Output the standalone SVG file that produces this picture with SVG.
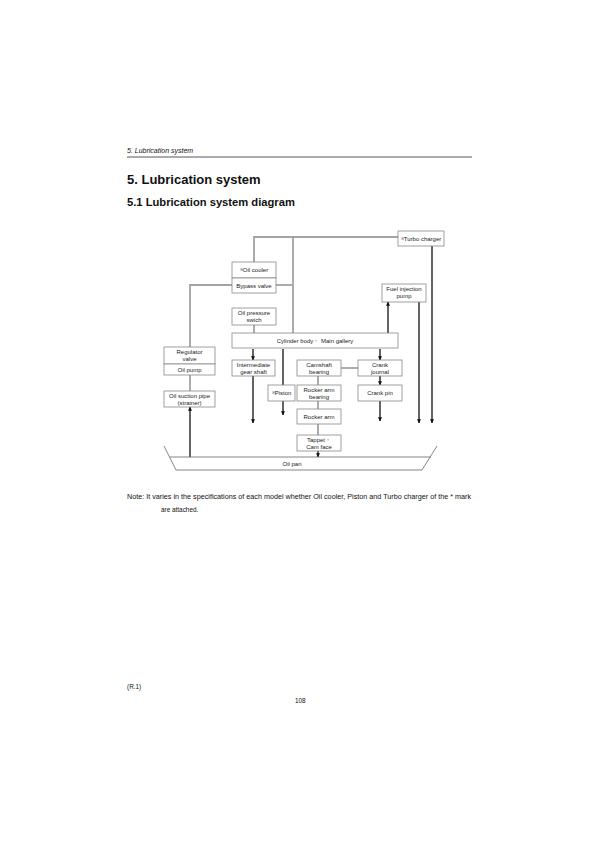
<svg xmlns="http://www.w3.org/2000/svg" width="600" height="849" viewBox="0 0 600 849">
<defs>
<marker id="ah" viewBox="0 0 6 6" refX="5.5" refY="3" markerWidth="4" markerHeight="4" orient="auto" markerUnits="userSpaceOnUse">
<path d="M0,0 L6,3 L0,6 z" fill="#111"/>
</marker>
<style>
.box{fill:#fff;stroke:#888;stroke-width:0.8}
.t{font-family:"Liberation Sans",Arial,sans-serif;font-size:6px;fill:#222;text-anchor:middle}
.g{fill:none;stroke:#a3a3a3;stroke-width:1.8}
.b{fill:none;stroke:#111;stroke-width:1.3;marker-end:url(#ah)}
.bl{fill:none;stroke:#111;stroke-width:1.3}
.pan{fill:none;stroke:#666;stroke-width:0.8}
.hdr{font-family:"Liberation Sans",Arial,sans-serif;fill:#111}
.s{font-size:3.8px}
</style>
</defs>
<rect width="600" height="849" fill="#fff"/>

<g id="header">
<text class="hdr" x="127" y="153" font-size="7" font-style="italic">5.  Lubrication system</text>
<line x1="127" y1="157" x2="472" y2="157" stroke="#444" stroke-width="0.9"/>
<text class="hdr" x="127" y="184" font-size="13" font-weight="bold">5. Lubrication system</text>
<text class="hdr" x="127" y="206" font-size="11.2" font-weight="bold">5.1 Lubrication system diagram</text>
</g>

<g id="connectors">
<path class="g" d="M254 262 V237 H398"/>
<path class="g" d="M293 237 V333"/>
<path class="g" d="M232 285 H190 V347"/>
<path class="g" d="M276 285 H293"/>
<path class="g" d="M254 325 V333"/>
<path class="g" d="M190 375 V391"/>
<path class="g" d="M341 368 H358"/>
<path class="g" d="M318 376 V385 M318 401 V409 M318 424 V435"/>
<path class="b" d="M253 349 V360"/>
<path class="b" d="M253 376 V423"/>
<path class="bl" d="M283 349 V385"/>
<path class="b" d="M283 401 V415"/>
<path class="b" d="M380 349 V360"/>
<path class="b" d="M380 376 V385"/>
<path class="b" d="M380 401 V421"/>
<path class="b" d="M388 333 V302"/>
<path class="b" d="M419 302 V423"/>
<path class="b" d="M432 246 V423"/>
<path class="b" d="M318 451 V457"/>
<path class="b" d="M190 457 V407"/>
</g>

<g id="oil-cooler"><rect class="box" x="232" y="262" width="44" height="16"/><text class="t" x="254" y="272"><tspan class="s" dy="-1.5">※</tspan><tspan dy="1.5">Oil cooler</tspan></text></g>
<g id="bypass-valve"><rect class="box" x="232" y="278" width="44" height="15"/><text class="t" x="254" y="288">Bypass valve</text></g>
<g id="oil-pressure-swich"><rect class="box" x="232" y="308" width="44" height="17"/><text class="t" x="254" y="315">Oil pressure</text><text class="t" x="254" y="321.5">swich</text></g>
<g id="cylinder-body"><rect class="box" x="232" y="333" width="166" height="15"/><text class="t" x="315" y="343">Cylinder body・ Main gallery</text></g>
<g id="turbo-charger"><rect class="box" x="398" y="231" width="46" height="15"/><text class="t" x="421" y="241"><tspan class="s" dy="-1.5">※</tspan><tspan dy="1.5">Turbo charger</tspan></text></g>
<g id="fuel-injection-pump"><rect class="box" x="382" y="284" width="44" height="18"/><text class="t" x="404" y="291">Fuel injection</text><text class="t" x="404" y="298">pump</text></g>
<g id="regulator-valve"><rect class="box" x="164" y="347" width="51" height="17"/><text class="t" x="189.5" y="354">Regulator</text><text class="t" x="189.5" y="360.5">valve</text></g>
<g id="oil-pump"><rect class="box" x="164" y="364" width="51" height="11"/><text class="t" x="189.5" y="371.8">Oil pump</text></g>
<g id="oil-suction-pipe"><rect class="box" x="164" y="391" width="51" height="16"/><text class="t" x="189.5" y="398">Oil suction pipe</text><text class="t" x="189.5" y="404.5">(strainer)</text></g>
<g id="intermediate-gear-shaft"><rect class="box" x="232" y="360" width="43" height="16"/><text class="t" x="253.5" y="367">Intermediate</text><text class="t" x="253.5" y="373.5">gear shaft</text></g>
<g id="piston"><rect class="box" x="268" y="385" width="27" height="16"/><text class="t" x="281.5" y="395"><tspan class="s" dy="-1.5">※</tspan><tspan dy="1.5">Piston</tspan></text></g>
<g id="camshaft-bearing"><rect class="box" x="297" y="360" width="44" height="16"/><text class="t" x="319" y="367">Camshaft</text><text class="t" x="319" y="373.5">bearing</text></g>
<g id="rocker-arm-bearing"><rect class="box" x="297" y="385" width="44" height="16"/><text class="t" x="319" y="392">Rocker arm</text><text class="t" x="319" y="398.5">bearing</text></g>
<g id="rocker-arm"><rect class="box" x="297" y="409" width="44" height="15"/><text class="t" x="319" y="418.5">Rocker arm</text></g>
<g id="tappet-cam-face"><rect class="box" x="297" y="435" width="44" height="16"/><text class="t" x="319" y="442">Tappet・</text><text class="t" x="319" y="448.5">Cam face</text></g>
<g id="crank-journal"><rect class="box" x="358" y="360" width="44" height="16"/><text class="t" x="380" y="367">Crank</text><text class="t" x="380" y="373.5">journal</text></g>
<g id="crank-pin"><rect class="box" x="358" y="385" width="44" height="16"/><text class="t" x="380" y="395">Crank pin</text></g>
<g id="oil-pan">
<polyline class="pan" points="164,446 176,470 422,470 437,446"/>
<line class="pan" x1="170" y1="457" x2="431" y2="457"/>
<text class="t" x="292" y="466">Oil pan</text>
</g>

<g id="notes">
<text class="hdr" x="127" y="499" font-size="6.4" textLength="344" lengthAdjust="spacingAndGlyphs">Note: It varies in the specifications of each model whether Oil cooler, Piston and Turbo charger of the * mark</text>
<text class="hdr" x="161" y="512" font-size="6.4">are attached.</text>
<text class="hdr" x="127" y="689" font-size="6.4">(R.1)</text>
<text class="hdr" x="295" y="703" font-size="6.4">108</text>
</g>
</svg>
